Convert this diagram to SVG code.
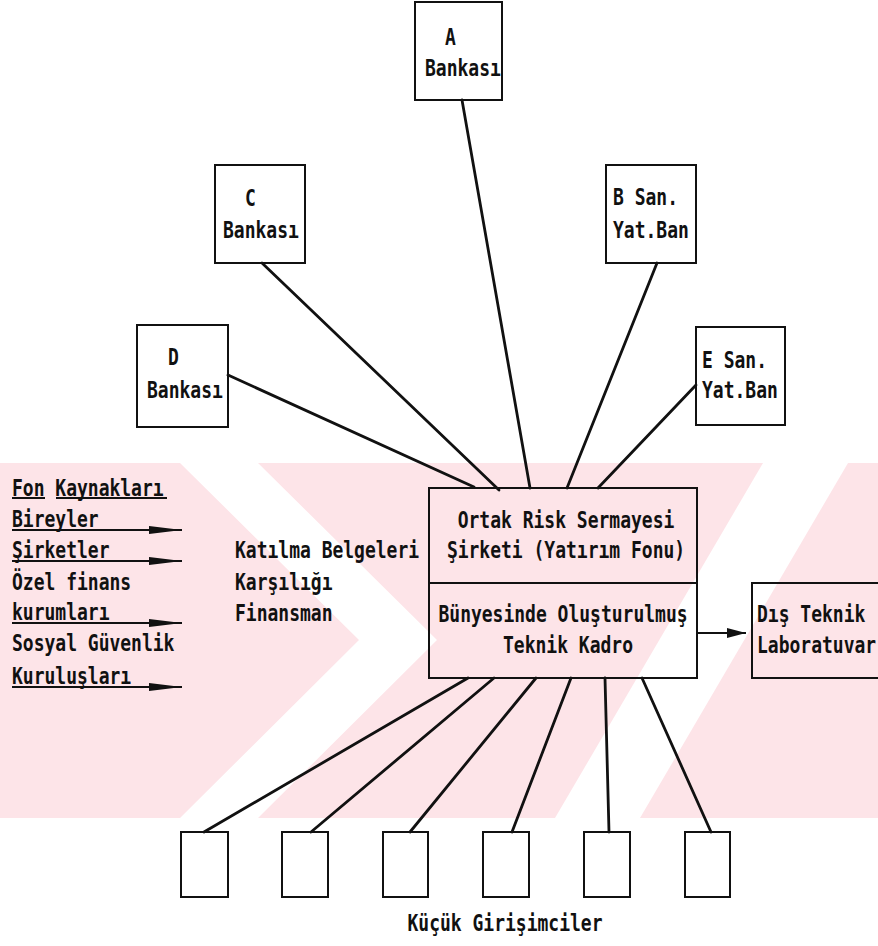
<svg xmlns="http://www.w3.org/2000/svg" width="878" height="946" viewBox="0 0 878 946">
  <defs>
    <style>
      .box{fill:none;stroke:#111;stroke-width:2}
      .wire{fill:none;stroke:#111;stroke-width:2.8;stroke-linecap:round}
      .feed{fill:none;stroke:#111;stroke-width:2.2}
      .t{font-family:"DejaVu Sans Mono","Liberation Mono",monospace;font-size:18px;font-weight:bold;fill:#111}
      .mid{text-anchor:middle}
      .wm{fill:#fde4e8}
      .wmcut{fill:#fff}
    </style>
    <marker id="headL" markerUnits="userSpaceOnUse" viewBox="0 0 34 10" markerWidth="34" markerHeight="10" refX="33" refY="5" orient="auto">
      <path d="M0,1 L33,5 L0,9 z" fill="#111"/>
    </marker>
    <marker id="headR" markerUnits="userSpaceOnUse" viewBox="0 0 20 10" markerWidth="20" markerHeight="10" refX="19" refY="5" orient="auto">
      <path d="M0,0 L19,5 L0,10 z" fill="#111"/>
    </marker>
  </defs>

  <rect width="878" height="946" fill="#fff"/>

  <!-- pale background band with diagonal cut-outs -->
  <g id="watermark">
    <rect class="wm" x="0" y="463" width="878" height="355"/>
    <polygon class="wmcut" points="180,463 258,463 437,640 258,818 180,818 359,640"/>
    <polygon class="wmcut" points="555,818 640,818 848,463 763,463"/>
  </g>

  <!-- connectors -->
  <g id="connectors">
    <line class="wire" x1="462" y1="100" x2="530" y2="488"/>
    <line class="wire" x1="262" y1="263" x2="499" y2="490"/>
    <line class="wire" x1="228" y1="375" x2="474" y2="487"/>
    <line class="wire" x1="657" y1="263" x2="567" y2="488"/>
    <line class="wire" x1="696" y1="385" x2="598" y2="488"/>
    <line class="wire" x1="468" y1="678" x2="204" y2="832"/>
    <line class="wire" x1="494" y1="678" x2="311" y2="832"/>
    <line class="wire" x1="536" y1="678" x2="410" y2="832"/>
    <line class="wire" x1="571" y1="678" x2="512" y2="832"/>
    <line class="wire" x1="605" y1="678" x2="609" y2="832"/>
    <line class="wire" x1="642" y1="678" x2="711" y2="832"/>
    <line class="feed" x1="697" y1="633" x2="746" y2="633" marker-end="url(#headR)"/>
    <line class="feed" x1="12" y1="530" x2="182" y2="530" marker-end="url(#headL)"/>
    <line class="feed" x1="12" y1="561" x2="182" y2="561" marker-end="url(#headL)"/>
    <line class="feed" x1="12" y1="623" x2="182" y2="623" marker-end="url(#headL)"/>
    <line class="feed" x1="12" y1="687" x2="182" y2="687" marker-end="url(#headL)"/>
  </g>

  <g id="bank-a">
    <rect class="box" x="415" y="2" width="87" height="98"/>
    <text class="t" transform="matrix(1 0 0 1.25 445 45)">A</text>
    <text class="t" transform="matrix(1 0 0 1.25 425 76)">Bankası</text>
  </g>
  <g id="bank-c">
    <rect class="box" x="215" y="165" width="90" height="98"/>
    <text class="t" transform="matrix(1 0 0 1.25 245 206)">C</text>
    <text class="t" transform="matrix(1 0 0 1.25 223 238)">Bankası</text>
  </g>
  <g id="bank-b">
    <rect class="box" x="606" y="165" width="90" height="98"/>
    <text class="t" transform="matrix(1 0 0 1.25 613 205)">B San.</text>
    <text class="t" transform="matrix(1 0 0 1.25 613 238)">Yat.Ban</text>
  </g>
  <g id="bank-d">
    <rect class="box" x="137" y="325" width="91" height="102"/>
    <text class="t" transform="matrix(1 0 0 1.25 168 365)">D</text>
    <text class="t" transform="matrix(1 0 0 1.25 147 398)">Bankası</text>
  </g>
  <g id="bank-e">
    <rect class="box" x="696" y="327" width="89" height="98"/>
    <text class="t" transform="matrix(1 0 0 1.25 702 368)">E San.</text>
    <text class="t" transform="matrix(1 0 0 1.25 702 398)">Yat.Ban</text>
  </g>

  <g id="fund">
    <rect class="box" x="429" y="488" width="268" height="190"/>
    <line class="box" x1="429" y1="583" x2="697" y2="583"/>
    <text class="t mid" transform="matrix(1 0 0 1.25 566 528)">Ortak Risk Sermayesi</text>
    <text class="t mid" transform="matrix(1 0 0 1.25 566 558)">Şirketi (Yatırım Fonu)</text>
    <text class="t mid" transform="matrix(1 0 0 1.25 563 622)">Bünyesinde Oluşturulmuş</text>
    <text class="t mid" transform="matrix(1 0 0 1.25 568 653)">Teknik Kadro</text>
  </g>

  <g id="lab">
    <path class="box" d="M878,583 H752 V678 H878"/>
    <text class="t" transform="matrix(1 0 0 1.25 757 622)">Dış Teknik</text>
    <text class="t" transform="matrix(1 0 0 1.25 757 653)">Laboratuvar</text>
  </g>

  <g id="sources">
    <text class="t" transform="matrix(1 0 0 1.25 12 496)">Fon Kaynakları</text>
    <line class="feed" x1="12" y1="498" x2="45" y2="498"/>
    <line class="feed" x1="56" y1="498" x2="167" y2="498"/>
    <text class="t" transform="matrix(1 0 0 1.25 12 527)">Bireyler</text>
    <text class="t" transform="matrix(1 0 0 1.25 12 558)">Şirketler</text>
    <text class="t" transform="matrix(1 0 0 1.25 12 590)">Özel finans</text>
    <text class="t" transform="matrix(1 0 0 1.25 12 620)">kurumları</text>
    <text class="t" transform="matrix(1 0 0 1.25 12 651)">Sosyal Güvenlik</text>
    <text class="t" transform="matrix(1 0 0 1.25 12 684)">Kuruluşları</text>
  </g>

  <g id="shares">
    <text class="t" transform="matrix(1 0 0 1.25 235 558)">Katılma Belgeleri</text>
    <text class="t" transform="matrix(1 0 0 1.25 235 590)">Karşılığı</text>
    <text class="t" transform="matrix(1 0 0 1.25 235 621)">Finansman</text>
  </g>

  <g id="entrepreneurs">
    <rect class="box" x="181" y="832" width="47" height="65"/>
    <rect class="box" x="282" y="832" width="46" height="65"/>
    <rect class="box" x="383" y="832" width="45" height="65"/>
    <rect class="box" x="483" y="832" width="46" height="65"/>
    <rect class="box" x="584" y="832" width="46" height="65"/>
    <rect class="box" x="685" y="832" width="45" height="65"/>
    <text class="t mid" transform="matrix(1 0 0 1.25 505 931)">Küçük Girişimciler</text>
  </g>
</svg>
